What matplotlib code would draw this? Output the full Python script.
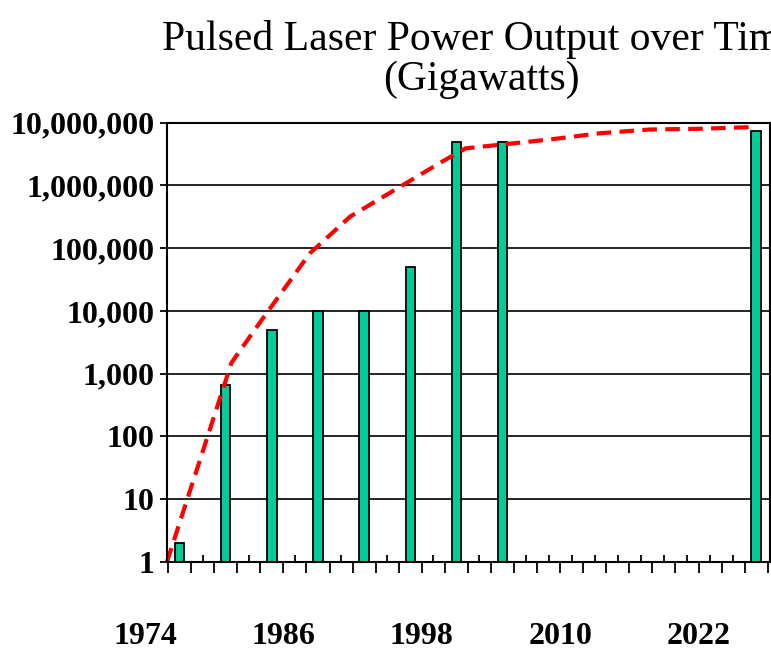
"""
Pulsed laser power output over time (log scale bar chart + trend line)
"""

import numpy as np
import matplotlib
matplotlib.use('Agg')
import matplotlib.pyplot as plt
from matplotlib.ticker import FixedLocator, FuncFormatter

# ============================================================
# DATA
# ============================================================
bar_years = [1977, 1981, 1985, 1989, 1993, 1997, 2001, 2005, 2027]
bar_values = [2, 670, 5000, 10000, 10000, 50000, 5000000, 5000000, 7500000]

# trend line
line_years = [1975.9, 1981.5, 1984.0, 1988.3, 1991.8, 1996.1, 1999.6,
              2001.8, 2005.0, 2009.1, 2013.5, 2017.8, 2022.1, 2026.5]
line_values = [1, 1500, 6700, 83000, 320000, 950000, 2300000,
               3900000, 4500000, 5400000, 6800000, 7800000, 8000000, 8500000]

year_labels = [1974, 1986, 1998, 2010, 2022]
y_ticks = [1, 10, 100, 1000, 10000, 100000, 1000000, 10000000]

title_1 = "Pulsed Laser Power Output over Time"
title_2 = "(Gigawatts)"

# ============================================================
# PLOT
# ============================================================
plt.rcParams['font.family'] = ['Liberation Serif', 'DejaVu Serif']

fig = plt.figure(figsize=(7.71, 6.54), dpi=100)
ax = fig.add_axes([166.7 / 771, 1 - 562 / 654, 603.3 / 771, (562 - 122.7) / 654])

ax.set_yscale('log')
ax.set_ylim(1, 1e7)
ax.set_xlim(1975.88, 2028.2)

ax.bar(bar_years, bar_values, width=0.82, bottom=0, color='#00CC99',
       edgecolor='black', linewidth=1.3, zorder=3)
ax.plot(line_years, line_values, color='#FF0000', lw=3,
        linestyle=(0, (3.5, 2)), zorder=4, clip_on=False)

# y axis
ax.yaxis.set_major_locator(FixedLocator(y_ticks))
ax.yaxis.set_minor_locator(FixedLocator([]))
ax.yaxis.set_major_formatter(FuncFormatter(lambda v, p: f"{int(round(v)):,}"))
ax.tick_params(axis='y', which='major', direction='out', length=5, width=1.3,
               pad=4, labelsize=23)
for lbl in ax.get_yticklabels():
    lbl.set_fontweight('bold')
ax.grid(axis='y', which='major', color='black', lw=1.2, zorder=1)

# x axis: outward ticks on even years, inward ticks on odd years
ax.xaxis.set_major_locator(FixedLocator(np.arange(1976, 2029, 2)))
ax.xaxis.set_minor_locator(FixedLocator(np.arange(1977, 2028, 2)))
ax.tick_params(axis='x', which='major', direction='out', length=7.7, width=1.3,
               labelbottom=False)
ax.tick_params(axis='x', which='minor', direction='in', length=5, width=1.3)

for yr in year_labels:
    ax.text(yr, -0.17, str(yr), transform=ax.get_xaxis_transform(),
            ha='center', va='center', fontsize=23, fontweight='bold',
            clip_on=False)

for s in ax.spines.values():
    s.set_linewidth(1.5)
    s.set_color('black')
    s.set_zorder(5)

fig.text(481 / 771, 1 - 50 / 654, title_1, ha='center', va='baseline', fontsize=30)
fig.text(481 / 771, 1 - 90 / 654, title_2, ha='center', va='baseline', fontsize=30)

plt.savefig('out.png', dpi=100)
